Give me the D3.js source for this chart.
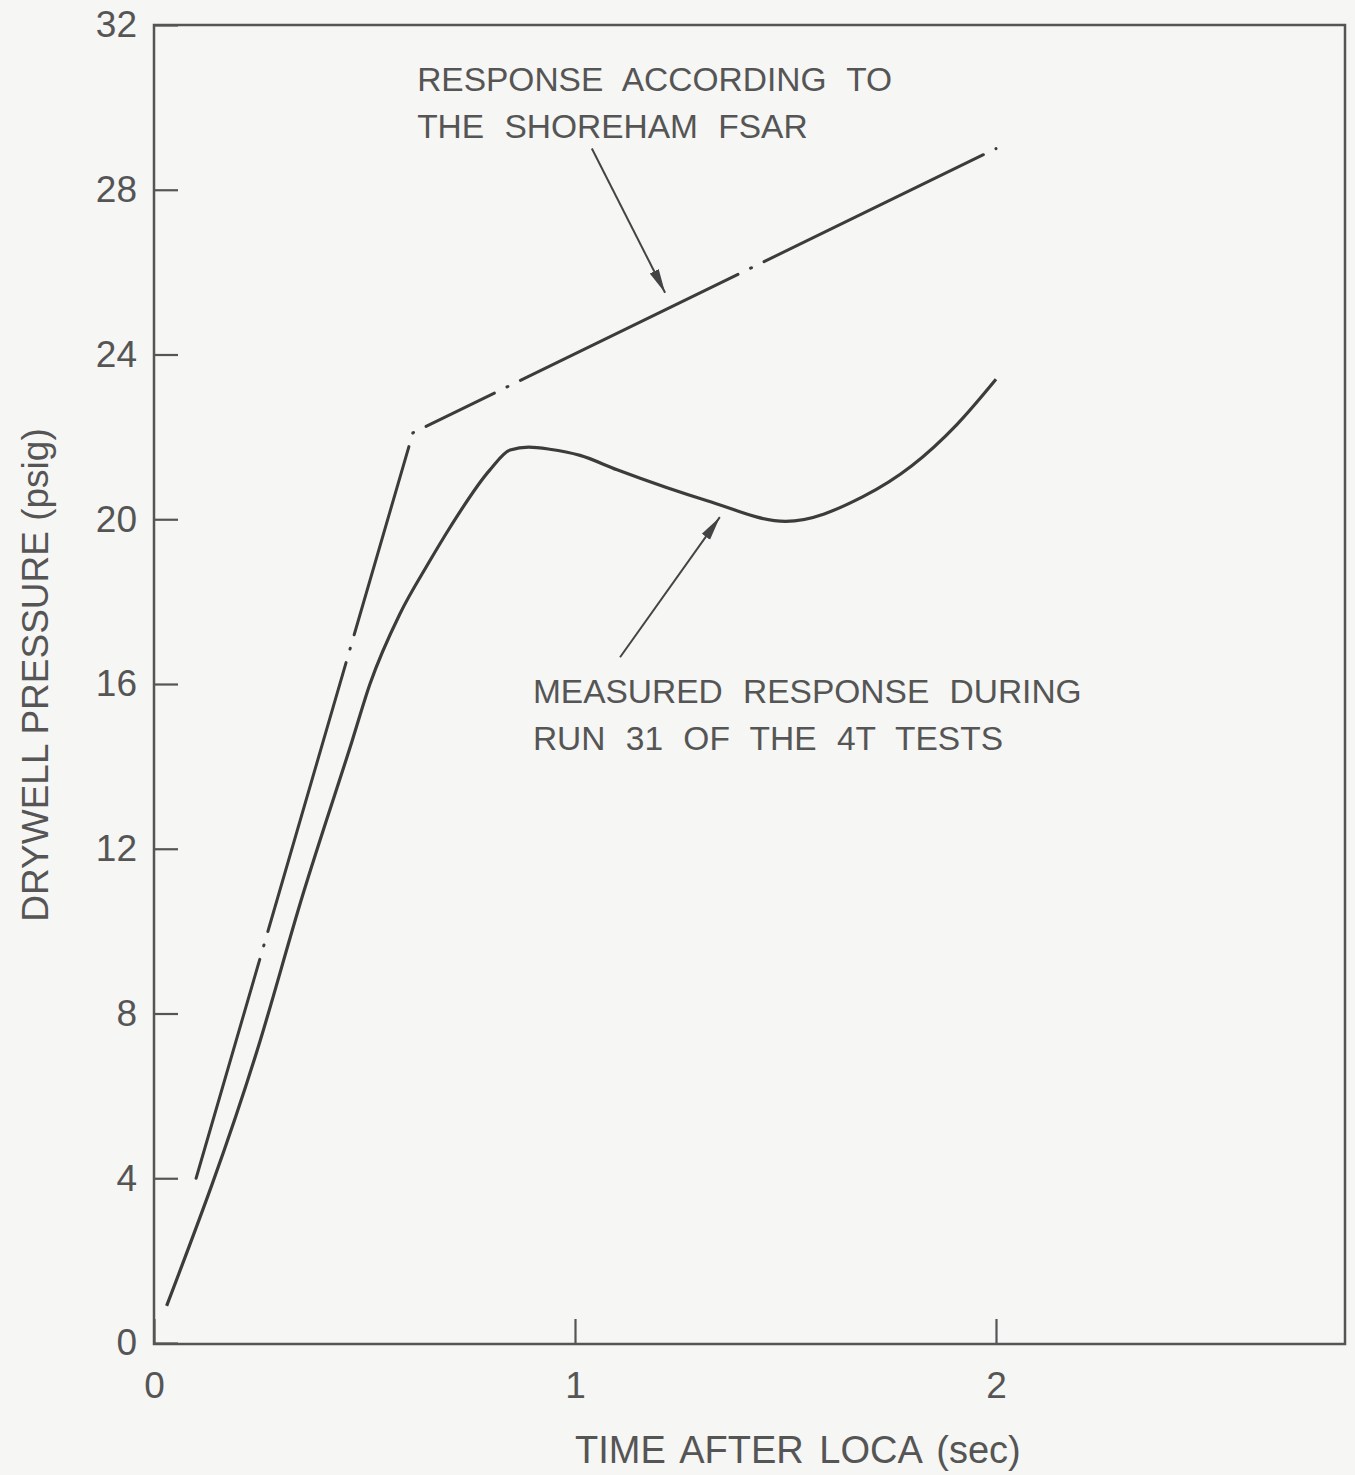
<!DOCTYPE html>
<html>
<head>
<meta charset="utf-8">
<script src="https://cdn.jsdelivr.net/npm/d3@7"></script>
<style>
  body { margin: 0; background: #f6f6f4; }
  svg { display: block; }
  text { font-family: "Liberation Sans", Arial, sans-serif; fill: #555; }
</style>
</head>
<body>
<div id="chart"></div>
<script>
// FSAR calculated response (dash-dot)
const fsarTime = [0.1, 0.615, 2.0];
const fsarPressure = [4.0, 22.1, 29.0];

// measured response, run 31 of the 4T tests
const measuredTime = [0.03, 0.245, 0.354, 0.47, 0.513, 0.584, 0.65, 0.703, 0.798, 0.846, 0.89, 0.94, 1.012, 1.10, 1.314, 1.5, 1.684, 1.80, 1.907, 2.0];
const measuredPressure = [0.9, 7.1, 10.9, 14.6, 16.0, 17.7, 18.9, 19.8, 21.2, 21.68, 21.75, 21.7, 21.55, 21.2, 20.45, 19.95, 20.55, 21.3, 22.3, 23.4];

const xTicks = [0, 1, 2];
const yTicks = [0, 4, 8, 12, 16, 20, 24, 28, 32];

// annotation text and arrow ends, in data units
const fsarLabel = ["RESPONSE ACCORDING TO", "THE SHOREHAM FSAR"];
const fsarLabelAt = [0.625, 30.4];
const fsarArrow = [[1.04, 29.0], [1.214, 25.5]];
const measuredLabel = ["MEASURED RESPONSE DURING", "RUN 31 OF THE 4T TESTS"];
const measuredLabelAt = [0.9, 15.55];
const measuredArrow = [[1.107, 16.65], [1.344, 20.05]];

const width = 1355;
const height = 1475;
const padLeft = 154, padRight = 1345, padTop = 25, padBottom = 1344;

const xScale = d3.scaleLinear()
  .domain([0, (padRight - padLeft) / 421])
  .range([padLeft, padRight]);

const yScale = d3.scaleLinear()
  .domain([0, 32])
  .range([1343, padTop]);

const svg = d3.select('#chart')
  .append('svg')
  .attr('width', width)
  .attr('height', height)
  .style('background', '#f6f6f4');

const defs = svg.append('defs');
defs.append('marker')
  .attr('id', 'head')
  .attr('viewBox', '0 0 24 12')
  .attr('refX', 24)
  .attr('refY', 6)
  .attr('markerWidth', 24)
  .attr('markerHeight', 12)
  .attr('markerUnits', 'userSpaceOnUse')
  .attr('orient', 'auto')
  .append('path')
  .attr('d', 'M0,1 L24,6 L0,11 Z')
  .attr('fill', '#444');

// frame
svg.append('rect')
  .attr('x', padLeft)
  .attr('y', padTop)
  .attr('width', padRight - padLeft)
  .attr('height', padBottom - padTop)
  .attr('fill', 'none')
  .attr('stroke', '#555')
  .attr('stroke-width', 2.5);

const yAxis = d3.axisLeft(yScale)
  .tickValues(yTicks)
  .tickSizeInner(-24)
  .tickSizeOuter(0)
  .tickPadding(17);

const xAxis = d3.axisBottom(xScale)
  .tickValues(xTicks)
  .tickFormat(d3.format('d'))
  .tickSizeInner(-25)
  .tickSizeOuter(0)
  .tickPadding(28);

const gy = svg.append('g')
  .attr('transform', `translate(${padLeft},0)`)
  .call(yAxis);

const gx = svg.append('g')
  .attr('transform', `translate(0,${padBottom})`)
  .call(xAxis);

[gx, gy].forEach(g => {
  g.select('.domain').remove();
  g.selectAll('.tick line').attr('stroke', '#555').attr('stroke-width', 2.2);
  g.selectAll('.tick text')
    .attr('fill', '#555')
    .style('font-family', '"Liberation Sans", Arial, sans-serif')
    .style('font-size', '37px');
});

// axis titles
svg.append('text')
  .attr('x', 575)
  .attr('y', 1463)
  .style('font-size', '38px')
  .style('word-spacing', '5px')
  .text('TIME AFTER LOCA (sec)');

svg.append('text')
  .attr('transform', `translate(48,${(425 + 925) / 2}) rotate(-90)`)
  .attr('text-anchor', 'middle')
  .style('font-size', '37px')
  .text('DRYWELL PRESSURE (psig)');

// curves
const fsar = fsarTime.map((t, i) => [t, fsarPressure[i]]);
const measured = measuredTime.map((t, i) => [t, measuredPressure[i]]);

const line = d3.line()
  .x(d => xScale(d[0]))
  .y(d => yScale(d[1]));

svg.append('path')
  .datum(fsar)
  .attr('d', line)
  .attr('fill', 'none')
  .attr('stroke', '#3c3c3c')
  .attr('stroke-width', 3)
  .attr('stroke-linecap', 'round')
  .attr('stroke-dasharray', '228,14,1,14 280,14,1,14 196,14,1,14 76,14,1,14 242,14,1,14 244,14,1,40');

svg.append('path')
  .datum(measured)
  .attr('d', line.curve(d3.curveMonotoneX))
  .attr('fill', 'none')
  .attr('stroke', '#3c3c3c')
  .attr('stroke-width', 3.2);

// annotations
function label(lines, at) {
  const t = svg.append('text')
    .attr('x', xScale(at[0]))
    .attr('y', yScale(at[1]))
    .style('font-size', '33.5px')
    .style('word-spacing', '11px');
  lines.forEach((s, i) => {
    t.append('tspan')
      .attr('x', xScale(at[0]))
      .attr('dy', i === 0 ? 0 : 47)
      .text(s);
  });
}
label(fsarLabel, fsarLabelAt);
label(measuredLabel, measuredLabelAt);

[fsarArrow, measuredArrow].forEach(a => {
  svg.append('line')
    .attr('x1', xScale(a[0][0]))
    .attr('y1', yScale(a[0][1]))
    .attr('x2', xScale(a[1][0]))
    .attr('y2', yScale(a[1][1]))
    .attr('stroke', '#444')
    .attr('stroke-width', 2)
    .attr('marker-end', 'url(#head)');
});
</script>
</body>
</html>
